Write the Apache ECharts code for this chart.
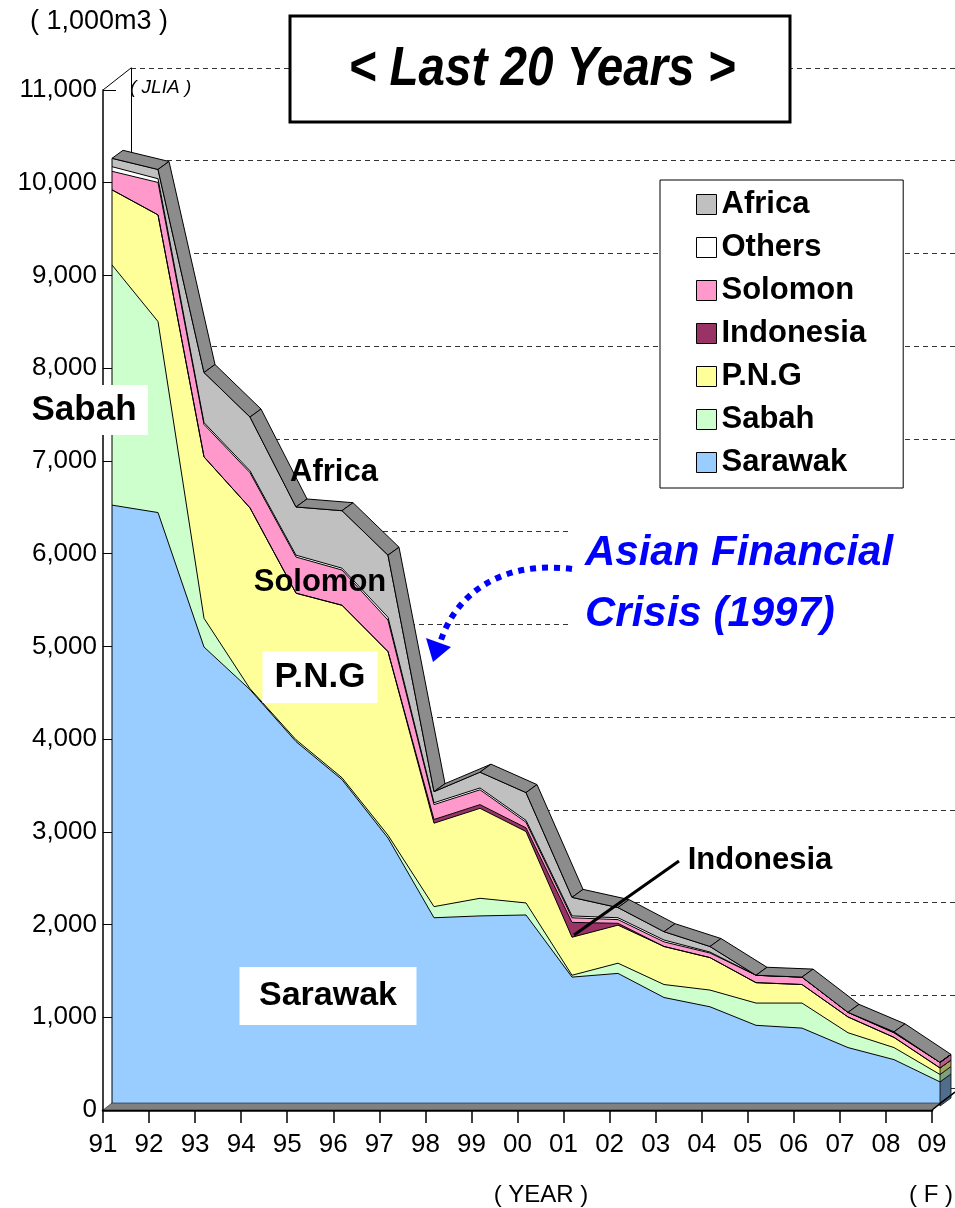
<!DOCTYPE html>
<html>
<head>
<meta charset="utf-8">
<title>Last 20 Years</title>
<script src="https://cdn.jsdelivr.net/npm/echarts@6/dist/echarts.min.js"></script>
<style>
  html, body { margin: 0; padding: 0; background: #fff; }
  #main { width: 955px; height: 1208px; }
</style>
</head>
<body>
<div id="main"></div>
<script>
// ( 1,000m3 )  JLIA
var years = ['91', '92', '93', '94', '95', '96', '97', '98', '99', '00',
  '01', '02', '03', '04', '05', '06', '07', '08', '09'];

var sarawak = [6480, 6400, 4950, 4490, 3930, 3520, 2890, 2030, 2050, 2060, 1390, 1430, 1170, 1070, 870, 840, 630, 500, 260];
var sabah = [2590, 2060, 310, 10, 20, 20, 30, 120, 190, 130, 20, 110, 140, 180, 240, 270, 160, 130, 80];
var png = [810, 1150, 1740, 1950, 1580, 1860, 1980, 900, 970, 770, 410, 410, 410, 350, 220, 200, 170, 110, 70];
var indonesia = [0, 0, 0, 0, 0, 0, 0, 40, 40, 40, 160, 20, 0, 0, 0, 0, 0, 0, 0];
var solomon = [200, 350, 350, 380, 390, 380, 340, 160, 160, 60, 50, 40, 50, 50, 80, 80, 50, 50, 60];
var others = [50, 40, 20, 20, 20, 20, 30, 20, 20, 20, 20, 20, 20, 10, 0, 0, 0, 0, 0];
var africa = [90, 100, 540, 580, 520, 620, 670, 120, 170, 300, 200, 110, 90, 60, 0, 0, 0, 10, 0];

// bottom to top
var layers = [
  { name: 'Sarawak', data: sarawak, color: '#99CCFF', side: '#4F6D8C' },
  { name: 'Sabah', data: sabah, color: '#CCFFCC', side: '#7FA07F' },
  { name: 'P.N.G', data: png, color: '#FFFF99', side: '#A3A35C' },
  { name: 'Indonesia', data: indonesia, color: '#993366', side: '#5C1F3D' },
  { name: 'Solomon', data: solomon, color: '#FF99CC', side: '#B85C8A' },
  { name: 'Others', data: others, color: '#FFFFFF', side: '#9A9A9A' },
  { name: 'Africa', data: africa, color: '#C0C0C0', side: '#707070' }
];

var totals = years.map(function (y, i) {
  var s = 0;
  layers.forEach(function (l) { s += l.data[i]; });
  return s;
});

// depth of the 3d slab
var DX = 11, DY = -8;
var FONT = 'Liberation Sans, Arial, sans-serif';

var myChart = echarts.init(document.getElementById('main'));

function renderSlab(params, api) {
  var i = params.dataIndex;
  var n = years.length;
  var kids = [];
  var p = api.coord([i, totals[i]]);
  if (i === 0) {
    var b = api.coord([0, 0]);
    kids.push({
      type: 'line',
      shape: { x1: b[0], y1: b[1], x2: p[0], y2: p[1] },
      style: { stroke: '#000', lineWidth: 1 }
    });
  }
  if (i === n - 1) {
    var lo = 0;
    layers.forEach(function (l) {
      var hi = lo + l.data[i];
      var a = api.coord([i, lo]);
      var c = api.coord([i, hi]);
      kids.push({
        type: 'polygon',
        shape: { points: [a, c, [c[0] + DX, c[1] + DY], [a[0] + DX, a[1] + DY]] },
        style: { fill: l.side, stroke: '#000', lineWidth: 0.8 }
      });
      lo = hi;
    });
  }
  if (i < n - 1) {
    var q = api.coord([i + 1, totals[i + 1]]);
    kids.push({
      type: 'polygon',
      shape: { points: [p, q, [q[0] + DX, q[1] + DY], [p[0] + DX, p[1] + DY]] },
      style: { fill: '#8C8C8C', stroke: '#000', lineWidth: 1 }
    });
  }
  return { type: 'group', children: kids };
}

var series = layers.map(function (l) {
  return {
    name: l.name,
    type: 'line',
    xAxisIndex: 1,
    yAxisIndex: 1,
    stack: 'total',
    data: l.data,
    symbol: 'none',
    color: l.color,
    lineStyle: { color: '#000', width: 1 },
    areaStyle: { color: l.color, opacity: 1 },
    z: 2
  };
});
series.push({
  name: 'slab',
  type: 'custom',
  xAxisIndex: 1,
  yAxisIndex: 1,
  renderItem: renderSlab,
  data: years.map(function (y, i) { return [i, totals[i]]; }),
  encode: { x: 0, y: 1 },
  z: 3
});

var legendNames = ['Africa', 'Others', 'Solomon', 'Indonesia', 'P.N.G', 'Sabah', 'Sarawak'];

function label(text, x, y, size, boxW, boxH) {
  var els = [];
  if (boxW) {
    els.push({
      type: 'rect', z: 100,
      shape: { x: x - boxW / 2, y: y - boxH / 2, width: boxW, height: boxH },
      style: { fill: '#fff' }
    });
  }
  els.push({
    type: 'text', z: 101, x: x, y: y,
    style: {
      text: text, fill: '#000', font: 'bold ' + size + 'px ' + FONT,
      textAlign: 'center', textVerticalAlign: 'middle'
    }
  });
  return els;
}

var graphics = [
  // left wall top corner
  { type: 'line', z: 10, shape: { x1: 103, y1: 90, x2: 131, y2: 68 }, style: { stroke: '#000', lineWidth: 1 } },
  // floor
  { type: 'polygon', z: 10, shape: { points: [[103, 1110], [112, 1103], [940, 1103], [932, 1110]] },
    style: { fill: '#808080', stroke: '#000', lineWidth: 0.5 } },
  { type: 'line', z: 10, shape: { x1: 932, y1: 1110, x2: 955, y2: 1092 }, style: { stroke: '#000', lineWidth: 1.5 } },
  { type: 'line', z: 10, shape: { x1: 940, y1: 1103, x2: 955, y2: 1092 }, style: { stroke: '#000', lineWidth: 1 } },
  // title box
  { type: 'rect', z: 100, shape: { x: 290, y: 16, width: 500, height: 106 },
    style: { fill: '#fff', stroke: '#000', lineWidth: 3 } },
  { type: 'text', z: 101, x: 542, y: 70, scaleX: 0.85, originX: 0, originY: 0,
    style: { text: '< Last 20 Years >', fill: '#000', font: 'italic bold 56px ' + FONT,
      textAlign: 'center', textVerticalAlign: 'middle' } },
  { type: 'text', z: 101, x: 30, y: 22,
    style: { text: '( 1,000m3 )', fill: '#000', font: '27px ' + FONT, textVerticalAlign: 'middle' } },
  { type: 'text', z: 101, x: 130, y: 88,
    style: { text: '( JLIA )', fill: '#000', font: 'italic 19px ' + FONT, textVerticalAlign: 'middle' } },
  { type: 'text', z: 101, x: 541, y: 1195,
    style: { text: '( YEAR )', fill: '#000', font: '24px ' + FONT, textAlign: 'center', textVerticalAlign: 'middle' } },
  { type: 'text', z: 101, x: 931, y: 1195,
    style: { text: '( F )', fill: '#000', font: '24px ' + FONT, textAlign: 'center', textVerticalAlign: 'middle' } },
  // Asian Financial Crisis
  { type: 'rect', z: 100, shape: { x: 568, y: 515, width: 387, height: 122 }, style: { fill: '#fff' } },
  { type: 'text', z: 101, x: 585, y: 553,
    style: { text: 'Asian Financial', fill: '#0000FF', font: 'italic bold 42px ' + FONT, textVerticalAlign: 'middle' } },
  { type: 'text', z: 101, x: 585, y: 614,
    style: { text: 'Crisis (1997)', fill: '#0000FF', font: 'italic bold 42px ' + FONT, textVerticalAlign: 'middle' } },
  { type: 'bezierCurve', z: 101,
    shape: { x1: 572, y1: 569, cpx1: 500, cpy1: 560, cpx2: 456, cpy2: 595, x2: 441, y2: 640 },
    style: { stroke: '#0000FF', lineWidth: 6, lineDash: [6, 6], fill: null } },
  { type: 'polygon', z: 101, shape: { points: [[433, 662], [426, 638], [451, 647]] }, style: { fill: '#0000FF' } },
  // Indonesia pointer
  { type: 'line', z: 101, shape: { x1: 574, y1: 935, x2: 679, y2: 861 }, style: { stroke: '#000', lineWidth: 3 } }
];
graphics = graphics
  .concat(label('Sabah', 84, 410, 35, 128, 50))
  .concat(label('P.N.G', 320, 677, 35, 115, 52))
  .concat(label('Sarawak', 328, 996, 34, 177, 58))
  .concat(label('Africa', 334, 472, 31))
  .concat(label('Solomon', 320, 582, 31))
  .concat(label('Indonesia', 760, 860, 31));

var option = {
  animation: false,
  backgroundColor: '#fff',
  grid: [
    { left: 103, top: 90, width: 829, height: 1020 },
    { left: 112, top: 86, width: 828, height: 1020 },
    { left: 131, top: 68, width: 824, height: 1020 }
  ],
  xAxis: [
    {
      gridIndex: 0, type: 'category', data: years, boundaryGap: false,
      axisLine: { lineStyle: { color: '#000', width: 2.5 } },
      axisTick: { length: 13, lineStyle: { color: '#000', width: 1.5 } },
      axisLabel: { color: '#000', fontSize: 26, fontFamily: FONT, margin: 22 },
      splitLine: { show: false }
    },
    { gridIndex: 1, type: 'category', data: years, boundaryGap: false, show: false },
    { gridIndex: 2, type: 'category', data: years, boundaryGap: false, show: false }
  ],
  yAxis: [
    {
      gridIndex: 0, type: 'value', min: 0, max: 11000, interval: 1000,
      axisLine: { show: true, lineStyle: { color: '#000', width: 1.5 } },
      axisTick: { show: true, inside: true, length: 13, lineStyle: { color: '#000', width: 1 } },
      axisLabel: {
        color: '#000', fontSize: 26, fontFamily: FONT, margin: 6,
        formatter: function (v) { return v.toLocaleString('en-US'); }
      },
      splitLine: { show: false }
    },
    { gridIndex: 1, type: 'value', min: 0, max: 11000, interval: 1000, show: false },
    {
      gridIndex: 2, type: 'value', min: 0, max: 11000, interval: 1000,
      axisLine: { show: true, lineStyle: { color: '#000', width: 1 } },
      axisTick: { show: false },
      axisLabel: { show: false },
      splitLine: { show: true, lineStyle: { color: '#333', width: 1, type: [5, 4] } }
    }
  ],
  legend: {
    orient: 'vertical',
    left: 660,
    top: 180,
    padding: [9, 37, 10, 36],
    backgroundColor: '#fff',
    borderColor: '#000',
    borderWidth: 1,
    icon: 'rect',
    itemWidth: 20,
    itemHeight: 20,
    itemGap: 12,
    itemTextGap: 13,
    selectedMode: false,
    z: 50,
    itemStyle: { borderColor: '#000', borderWidth: 1 },
    textStyle: { color: '#000', fontSize: 31, fontWeight: 'bold', fontFamily: FONT, lineHeight: 30 },
    data: legendNames.map(function (nm) {
      var l = layers.filter(function (x) { return x.name === nm; })[0];
      return { name: nm, itemStyle: { color: l.color, borderColor: '#000', borderWidth: 1 } };
    })
  },
  graphic: graphics,
  series: series
};

myChart.setOption(option);
</script>
</body>
</html>
